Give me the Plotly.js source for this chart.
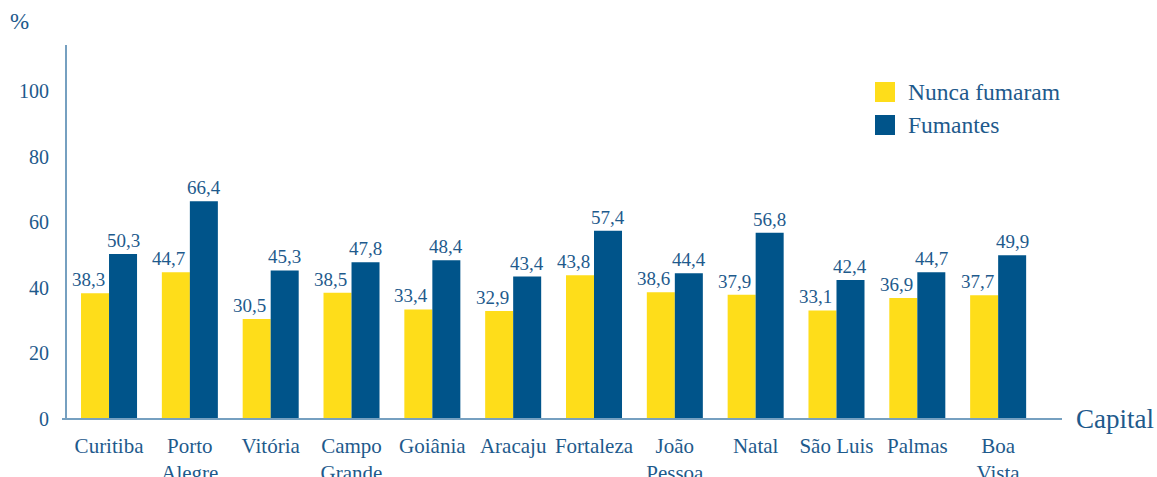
<!DOCTYPE html>
<html>
<head>
<meta charset="utf-8">
<script src="https://cdn.plot.ly/plotly-3.0.1.min.js"></script>
<style>html,body{margin:0;padding:0;background:#fff;}#chart{width:1157px;height:477px;}</style>
</head>
<body>
<div id="chart"></div>
<script>
const capitals = ["Curitiba", "Porto<br>Alegre", "Vitória", "Campo<br>Grande", "Goiânia", "Aracaju", "Fortaleza", "João<br>Pessoa", "Natal", "São Luis", "Palmas", "Boa<br>Vista"];
const seriesNames = ["Nunca fumaram", "Fumantes"];
const nuncaFumaram = [38.3, 44.7, 30.5, 38.5, 33.4, 32.9, 43.8, 38.6, 37.9, 33.1, 36.9, 37.7];
const fumantes = [50.3, 66.4, 45.3, 47.8, 48.4, 43.4, 57.4, 44.4, 56.8, 42.4, 44.7, 49.9];
const yTicks = [0, 20, 40, 60, 80, 100];

const yellow = '#FEDD1A';
const blue = '#00548A';
const textColor = '#1E5A8C';
const lineColor = '#76A0C0';
const fontFam = 'Liberation Serif, Times New Roman, serif';

function barTrace(name, vals, color) {
  return {
    type: 'bar', name: name, x: capitals, y: vals,
    marker: {color: color, line: {width: 0}},
    showlegend: false, hoverinfo: 'none'
  };
}

const data = [barTrace(seriesNames[0], nuncaFumaram, yellow), barTrace(seriesNames[1], fumantes, blue)];

const legendColors = [yellow, blue];
const shapes = [];
const annotations = [];

// value labels (decimal comma), offset per series to sit above each bar
const fmt = v => v.toFixed(1).replace('.', ',');
const labelShift = [-21, 14];
[nuncaFumaram, fumantes].forEach((vals, s) => {
  vals.forEach((v, i) => {
    annotations.push({x: capitals[i], y: v, xref: 'x', yref: 'y', text: fmt(v), showarrow: false,
      xanchor: 'center', yanchor: 'bottom', xshift: labelShift[s], yshift: 1,
      font: {family: fontFam, size: 19, color: textColor}});
  });
});

seriesNames.forEach((n, i) => {
  const yTop = 82 + i * 33;
  shapes.push({type: 'rect', xref: 'paper', yref: 'paper',
    x0: (875 - 67) / 995, x1: (895 - 67) / 995,
    y0: (419 - yTop - 20) / 374, y1: (419 - yTop) / 374,
    fillcolor: legendColors[i], line: {width: 0}});
  annotations.push({xref: 'paper', yref: 'paper', x: (906 - 67) / 995, y: (419 - yTop - 10) / 374,
    xanchor: 'left', yanchor: 'middle', showarrow: false, text: n,
    font: {family: fontFam, size: 23.5, color: textColor}});
});
shapes.push({type: 'line', xref: 'paper', yref: 'paper', x0: -5 / 995, x1: 1, y0: 0, y1: 0,
  line: {color: lineColor, width: 2}});
annotations.push({xref: 'paper', yref: 'paper', x: (1074 - 67) / 995, y: 0, xanchor: 'left', yanchor: 'middle',
  showarrow: false, text: 'Capital', font: {family: fontFam, size: 27, color: textColor}});
annotations.push({xref: 'paper', yref: 'paper', x: (8 - 67) / 995, y: (419 - 22) / 374, xanchor: 'left', yanchor: 'middle',
  showarrow: false, text: '%', font: {family: fontFam, size: 23, color: textColor}});

const layout = {
  width: 1157, height: 477,
  margin: {l: 67, r: 95, t: 45, b: 58},
  paper_bgcolor: '#fff', plot_bgcolor: '#fff',
  barmode: 'group', bargap: 0.307, bargroupgap: 0,
  font: {family: fontFam, color: textColor},
  xaxis: {
    type: 'category', range: [-0.52, 11.79], showline: false, zeroline: false, showgrid: false,
    ticks: '', tickfont: {family: fontFam, size: 21, color: textColor}, ticklabelstandoff: 12
  },
  yaxis: {
    range: [0, 114], tickvals: yTicks, ticktext: yTicks.map(String),
    showline: true, linecolor: lineColor, linewidth: 2, zeroline: false, showgrid: false,
    ticks: '', tickfont: {family: fontFam, size: 20, color: textColor}, ticklabelstandoff: 12
  },
  shapes: shapes, annotations: annotations
};

Plotly.newPlot('chart', data, layout, {displayModeBar: false, staticPlot: true});
</script>
</body>
</html>
